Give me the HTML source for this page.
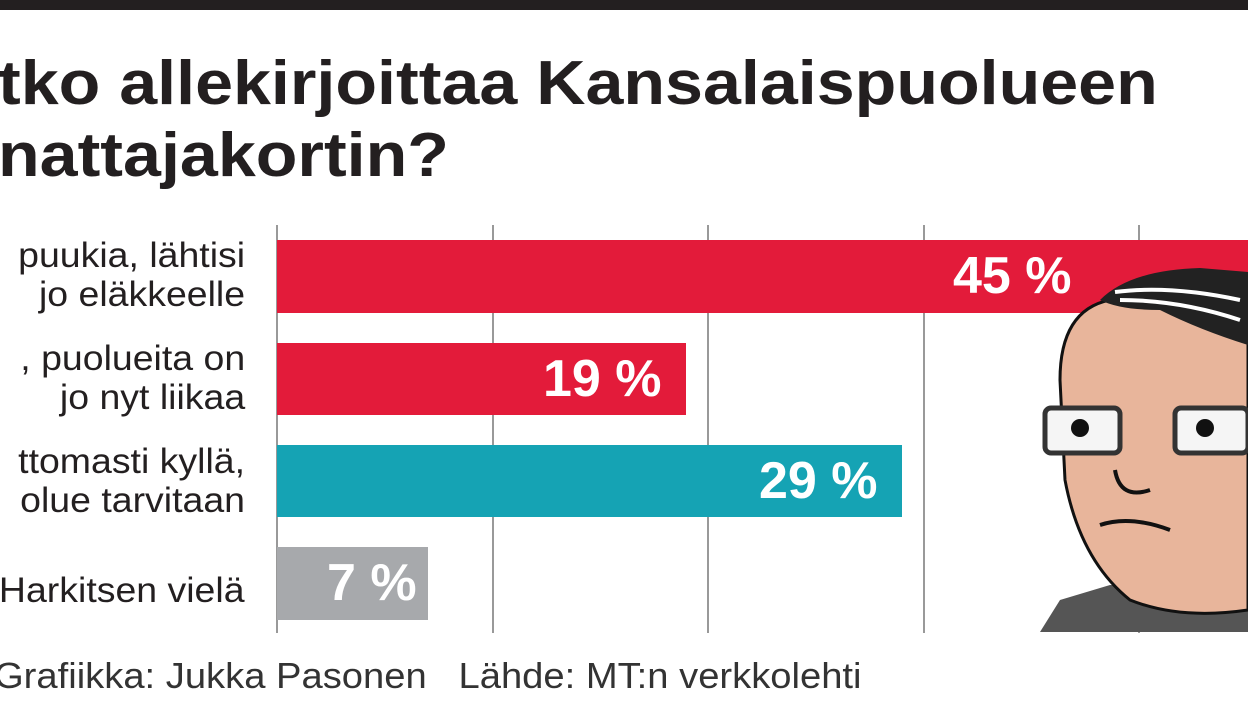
<!DOCTYPE html>
<html><head><meta charset="utf-8"><style>
body{margin:0;width:1248px;height:702px;background:#fff;overflow:hidden;position:relative;font-family:"Liberation Sans",sans-serif;}
.t{position:absolute;white-space:nowrap;}
.title{font-weight:bold;font-size:62px;color:#231f20;transform:scaleX(1.1);transform-origin:left top;}
.lab{right:1003px;text-align:right;font-size:35px;line-height:39px;color:#231f20;transform:scaleX(1.07);transform-origin:right top;}
.bar{position:absolute;left:277px;}
.v{position:absolute;color:#fff;font-weight:bold;font-size:52px;top:6px;}
.g{position:absolute;top:225px;height:408px;width:1.5px;background:#999;}
</style></head><body>
<div style="position:absolute;left:0;top:0;width:1248px;height:10px;background:#231f20"></div>
<div class="t title" style="left:-2px;top:48px">tko allekirjoittaa Kansalaispuolueen</div>
<div class="t title" style="left:-2px;top:120px">nattajakortin?</div>
<div class="g" style="left:276px"></div>
<div class="g" style="left:492px"></div>
<div class="g" style="left:707px"></div>
<div class="g" style="left:923px"></div>
<div class="g" style="left:1138px"></div>
<div class="bar" style="top:240px;width:971px;height:73px;background:#e31b3a"><div class="v" style="left:676px">45 %</div></div>
<div class="bar" style="top:343px;width:409px;height:72px;background:#e31b3a"><div class="v" style="left:266px">19 %</div></div>
<div class="bar" style="top:445px;width:625px;height:72px;background:#15a3b4"><div class="v" style="left:482px">29 %</div></div>
<div class="bar" style="top:547px;width:151px;height:73px;background:#a7a9ac"><div class="v" style="left:50px">7 %</div></div>
<div class="t lab" style="top:236px">puukia, lähtisi<br>jo eläkkeelle</div>
<div class="t lab" style="top:339px">, puolueita on<br>jo nyt liikaa</div>
<div class="t lab" style="top:442px">ttomasti kyllä,<br>olue tarvitaan</div>
<div class="t lab" style="top:571px">Harkitsen vielä</div>
<div class="t" style="left:-6px;top:655px;font-size:36px;color:#333;transform:scaleX(1.06);transform-origin:left top">Grafiikka: Jukka Pasonen &nbsp;&nbsp;Lähde: MT:n verkkolehti</div>
<svg style="position:absolute;left:0;top:0" width="1248" height="702">
<path d="M1040 632 L1060 600 L1110 585 L1248 585 L1248 632 Z" fill="#555"/>
<path d="M1060 380 Q1060 310 1110 300 L1248 300 L1248 610 Q1180 620 1130 600 Q1080 560 1065 480 Z" fill="#e8b59b" stroke="#111" stroke-width="3"/>
<path d="M1100 300 Q1130 270 1200 268 L1248 272 L1248 345 Q1200 330 1160 310 Q1120 310 1100 300Z" fill="#222"/>
<path d="M1115 292 Q1170 285 1240 300 M1120 300 Q1180 300 1240 320" stroke="#fff" stroke-width="4" fill="none"/>
<rect x="1045" y="408" width="75" height="45" rx="6" fill="#f5f5f5" stroke="#333" stroke-width="5"/>
<rect x="1175" y="408" width="73" height="45" rx="6" fill="#f5f5f5" stroke="#333" stroke-width="5"/>
<circle cx="1080" cy="428" r="9" fill="#111"/><circle cx="1205" cy="428" r="9" fill="#111"/>
<path d="M1100 525 Q1130 515 1170 530 M1115 470 Q1120 500 1150 490" stroke="#111" stroke-width="4" fill="none"/>
</svg>
</body></html>
